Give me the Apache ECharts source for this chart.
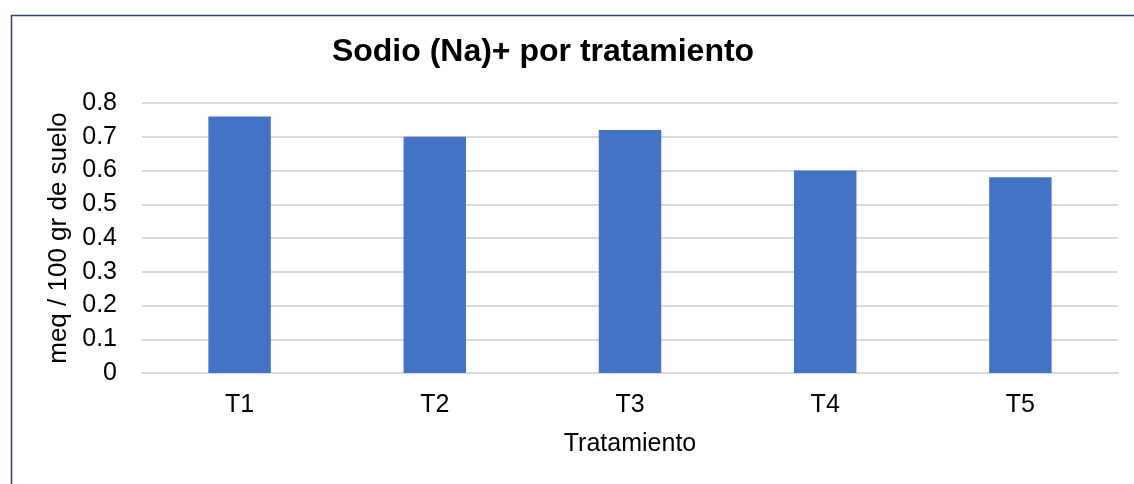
<!DOCTYPE html>
<html>
<head>
<meta charset="utf-8">
<script src="https://cdn.jsdelivr.net/npm/echarts@6/dist/echarts.min.js"></script>
<style>html,body{margin:0;padding:0;background:#fff;}#c{width:1134px;height:484px;}</style>
</head>
<body>
<div id="c"></div>
<script>
const categories = ['T1', 'T2', 'T3', 'T4', 'T5'];
const sodio = [0.76, 0.70, 0.72, 0.60, 0.58];
const titleText = 'Sodio (Na)+ por tratamiento';
const xName = 'Tratamiento';
const yName = 'meq / 100 gr de suelo';

const chart = echarts.init(document.getElementById('c'));
const font = '"Liberation Sans", Arial, sans-serif';
chart.setOption({
  animation: false,
  backgroundColor: '#fff',
  graphic: [{
    type: 'rect', left: 9, top: 13, shape: { width: 1200, height: 600 },
    style: { fill: 'none', stroke: '#2F3F6F', lineWidth: 1.5 }, z: 100
  }],
  title: {
    text: titleText, left: 538, top: 31, textAlign: 'center',
    textStyle: { fontFamily: font, fontWeight: 'bold', fontSize: 32, color: '#000' }
  },
  grid: { left: 142, right: 16, top: 103, bottom: 111, containLabel: false },
  xAxis: {
    type: 'category', data: categories,
    name: xName, nameLocation: 'middle', nameGap: 59,
    nameTextStyle: { fontFamily: font, fontSize: 25, color: '#000' },
    axisLine: { show: true, lineStyle: { color: '#d9d9d9', width: 2 } },
    axisTick: { show: false },
    axisLabel: { fontFamily: font, fontSize: 25, color: '#000', margin: 20 }
  },
  yAxis: {
    type: 'value', min: 0, max: 0.8, interval: 0.1,
    name: yName, nameLocation: 'middle', nameGap: 70,
    nameTextStyle: { fontFamily: font, fontSize: 26, color: '#000' },
    axisLine: { show: false }, axisTick: { show: false },
    axisLabel: { fontFamily: font, fontSize: 25, color: '#000', margin: 25,
      formatter: v => String(Math.round(v * 10) / 10) },
    splitLine: { lineStyle: { color: '#d9d9d9', width: 2 } }
  },
  series: [{
    type: 'bar', data: sodio, barWidth: '32%',
    itemStyle: { color: '#4472C4' }
  }]
});
</script>
</body>
</html>
